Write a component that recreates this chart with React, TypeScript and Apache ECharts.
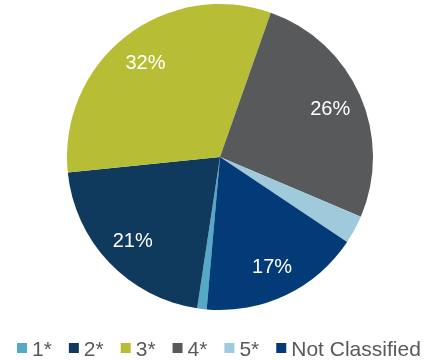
import React, { useEffect, useRef } from "react";
import * as echarts from "echarts";

const categories = ["1*", "2*", "3*", "4*", "5*", "Not Classified"];
const shares = [1, 21, 32, 26, 3, 17];
const colors = ["#55a8c6", "#0f3a5d", "#b7be35", "#58595b", "#9ecadc", "#023b78"];

const CENTER: [number, number] = [220, 157];
const RADIUS = 153;

export default function App() {
  const ref = useRef<HTMLDivElement>(null);

  useEffect(() => {
    if (!ref.current) return;
    const chart = echarts.init(ref.current, undefined, { renderer: "svg" });
    const data = categories.map((name, i) => ({
      name,
      value: shares[i],
      itemStyle: { color: colors[i] },
    }));
    chart.setOption({
      animation: false,
      legend: {
        data: categories,
        left: 17,
        top: 336,
        padding: 0,
        itemWidth: 10,
        itemHeight: 10,
        itemGap: 17,
        icon: "rect",
        textStyle: {
          fontFamily: "Liberation Sans, Arial, sans-serif",
          fontSize: 21,
          lineHeight: 24,
          color: "#595959",
        },
        selectedMode: false,
      },
      series: [
        {
          type: "pie",
          center: CENTER,
          radius: [0, RADIUS],
          startAngle: 265,
          clockwise: true,
          label: { show: false },
          labelLine: { show: false },
          silent: true,
          data,
        },
        {
          // transparent ring that carries the percentage labels
          type: "pie",
          center: CENTER,
          radius: [82, RADIUS],
          startAngle: 265,
          clockwise: true,
          silent: true,
          itemStyle: { color: "transparent" },
          labelLine: { show: false },
          label: {
            show: true,
            position: "inside",
            color: "#ffffff",
            fontFamily: "Liberation Sans, Arial, sans-serif",
            fontSize: 20,
            formatter: (p: any) => (p.value >= 5 ? `${p.value}%` : ""),
          },
          data: categories.map((name, i) => ({ name, value: shares[i] })),
        },
      ],
    });
    return () => chart.dispose();
  }, []);

  return (
    <div
      ref={ref}
      style={{ position: "fixed", left: 0, top: 0, width: 429, height: 360 }}
    />
  );
}
